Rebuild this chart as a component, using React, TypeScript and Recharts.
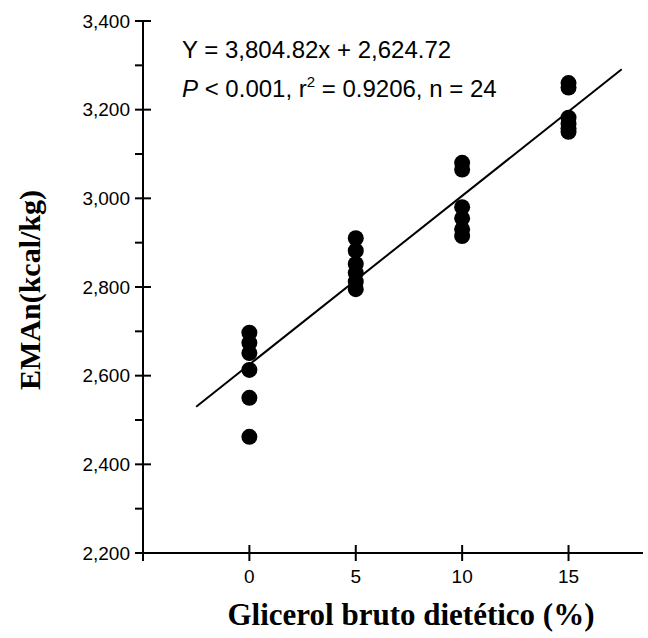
import React from "react";
import { ScatterChart, Scatter, XAxis, YAxis } from "recharts";

const xLevels = [0, 5, 10, 15];
const emanAt0 = [2697, 2674, 2651, 2613, 2550, 2462];
const emanAt5 = [2910, 2882, 2852, 2832, 2812, 2795];
const emanAt10 = [3080, 3065, 2980, 2955, 2930, 2915];
const emanAt15 = [3260, 3250, 3182, 3168, 3158, 3150];
const fitX = [-2.5, 17.5];
const fitY = [2530, 3291];
const yTicks = [2200, 2300, 2400, 2500, 2600, 2700, 2800, 2900, 3000, 3100, 3200, 3300, 3400];
const xTicks = [-5, 0, 5, 10, 15];

const groups = [emanAt0, emanAt5, emanAt10, emanAt15];
const points = groups.flatMap((g, i) => g.map((v) => ({ x: xLevels[i], y: v })));
const fitLine = fitX.map((x, i) => ({ x, y: fitY[i] }));

const fmt = (v: number) => v.toLocaleString("en-US");
const sans = "'Liberation Sans', Arial, sans-serif";
const serif = "'Liberation Serif', 'Times New Roman', serif";

const YTick = (props: any) => {
  const { x, y, payload } = props;
  const v = payload.value as number;
  const major = v % 200 === 0;
  return (
    <g>
      <line x1={x - 8} x2={major ? x + 8 : x} y1={y} y2={y} stroke="#000" strokeWidth={2} />
      {major && (
        <text x={x - 13} y={y} dy="0.35em" textAnchor="end" fontFamily={sans} fontSize={19} fill="#000">
          {fmt(v)}
        </text>
      )}
    </g>
  );
};

const XTick = (props: any) => {
  const { x, y, payload } = props;
  const v = payload.value as number;
  const first = v === xTicks[0];
  return (
    <g>
      <line x1={x} x2={x} y1={first ? y : y - 8} y2={y + 8} stroke="#000" strokeWidth={2} />
      {!first && (
        <text x={x} y={y + 30} textAnchor="middle" fontFamily={sans} fontSize={19} fill="#000">
          {v}
        </text>
      )}
    </g>
  );
};

const Dot = (props: any) => <circle cx={props.cx} cy={props.cy} r={8} fill="#000" />;
const NoDot = () => <g />;

export default function App() {
  return (
    <div style={{ position: "absolute", left: 0, top: 0, width: 648, height: 638, background: "#fff" }}>
      <ScatterChart width={648} height={638} margin={{ top: 21, right: 5, bottom: 25, left: 63 }}>
        <XAxis
          type="number"
          dataKey="x"
          domain={[-5, 18.5]}
          ticks={xTicks}
          allowDataOverflow
          height={60}
          tickSize={0}
          tickMargin={0}
          tickLine={false}
          axisLine={{ stroke: "#000", strokeWidth: 2 }}
          tick={<XTick />}
        />
        <YAxis
          type="number"
          dataKey="y"
          domain={[2200, 3400]}
          ticks={yTicks}
          allowDataOverflow
          width={80}
          tickSize={0}
          tickMargin={0}
          tickLine={false}
          axisLine={{ stroke: "#000", strokeWidth: 2 }}
          tick={<YTick />}
        />
        <Scatter data={fitLine} line={{ stroke: "#000", strokeWidth: 2 }} shape={<NoDot />} isAnimationActive={false} />
        <Scatter data={points} shape={<Dot />} isAnimationActive={false} />
      </ScatterChart>
      <svg width={648} height={638} style={{ position: "absolute", left: 0, top: 0, pointerEvents: "none" }}>
        <text x={182} y={58} fontFamily={sans} fontSize={24} fill="#000">
          Y = 3,804.82x + 2,624.72
        </text>
        <text x={182} y={97} fontFamily={sans} fontSize={24} fill="#000">
          <tspan fontStyle="italic">P</tspan>
          <tspan> &lt; 0.001, r</tspan>
          <tspan dy={-10} fontSize={15}>2</tspan>
          <tspan dy={10}> = 0.9206, n = 24</tspan>
        </text>
        <text
          x={0}
          y={0}
          transform="translate(40, 290) rotate(-90)"
          textAnchor="middle"
          fontFamily={serif}
          fontWeight="bold"
          fontSize={30}
          fill="#000"
        >
          EMAn(kcal/kg)
        </text>
        <text x={411} y={625} textAnchor="middle" fontFamily={serif} fontWeight="bold" fontSize={31} fill="#000">
          Glicerol bruto dietético (%)
        </text>
      </svg>
    </div>
  );
}
